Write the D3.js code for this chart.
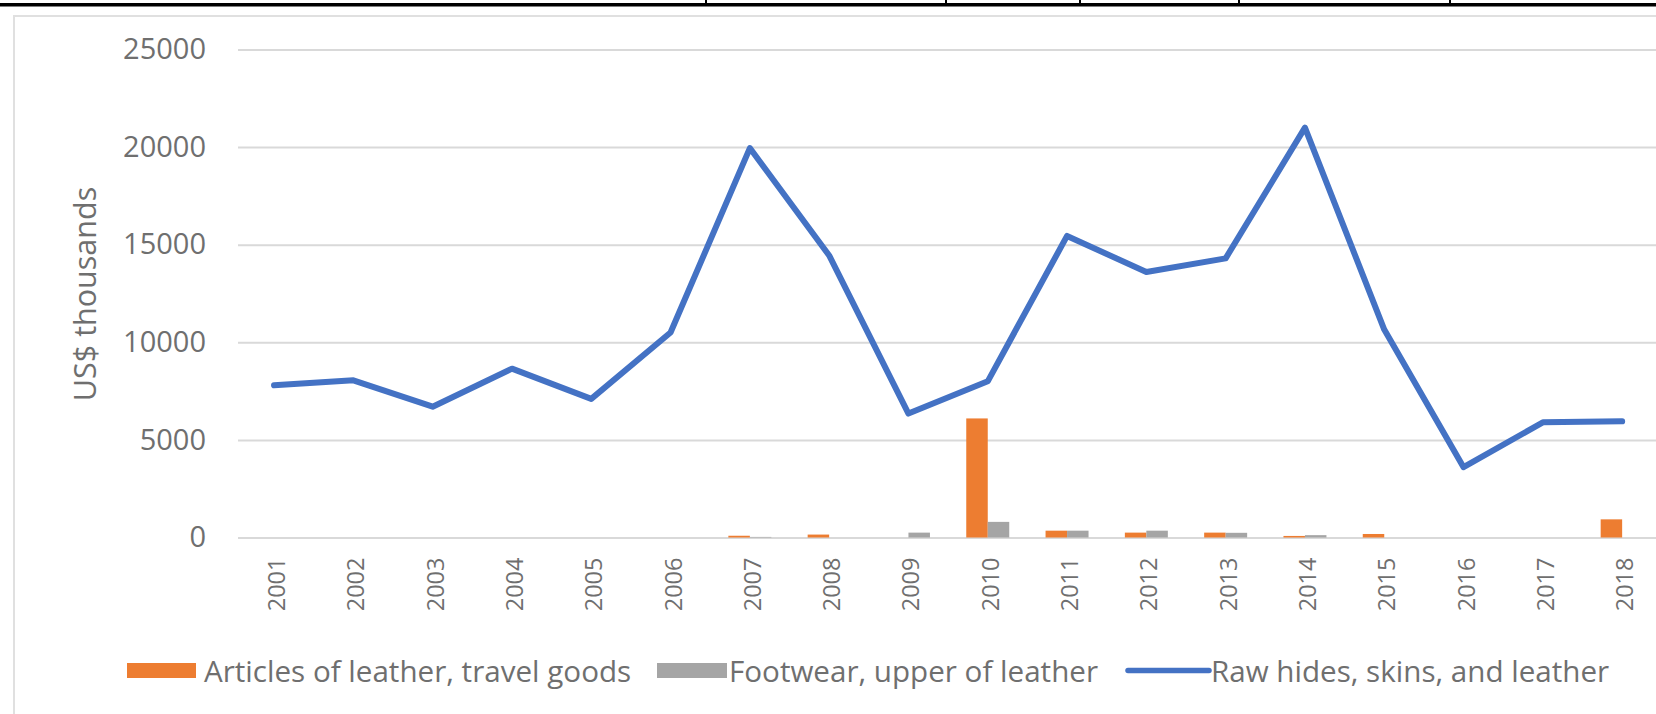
<!DOCTYPE html>
<html>
<head>
<meta charset="utf-8">
<script src="https://cdn.jsdelivr.net/npm/d3@7"></script>
<style>
  html, body { margin: 0; padding: 0; background: #fff; overflow: hidden; width: 1656px; height: 714px; }
  svg { display: block; font-family: "Open Sans", "Liberation Sans", sans-serif; }
</style>
</head>
<body>
<svg id="chart" width="1656" height="714"></svg>
<script>
// Leather trade, US$ thousands, 2001-2018
const years = ["2001","2002","2003","2004","2005","2006","2007","2008","2009",
               "2010","2011","2012","2013","2014","2015","2016","2017","2018"];
const articlesOfLeather = [0, 0, 0, 0, 0, 0, 90, 150, 0, 6100, 350, 250, 250, 80, 180, 0, 0, 930];
const footwearUpper     = [0, 0, 0, 0, 0, 0, 30, 0, 250, 800, 350, 350, 240, 120, 0, 0, 0, 0];
const rawHides          = [7800, 8050, 6700, 8650, 7100, 10500, 19950, 14450, 6350, 8000,
                           15450, 13600, 14300, 21000, 10650, 3600, 5900, 5950];
const yTicks = [0, 5000, 10000, 15000, 20000, 25000];

const barSeries = [
  { name: "Articles of leather, travel goods", values: articlesOfLeather, color: "#ED7D31" },
  { name: "Footwear, upper of leather",        values: footwearUpper,     color: "#A5A5A5" }
];
const lineSeries = { name: "Raw hides, skins, and leather", values: rawHides, color: "#4472C4" };

const W = 1656, H = 714;
const svg = d3.select("#chart");

const plot = { left: 234.4, step: 79.3, top: 49.5, bottom: 537.5 };
const pInner = 0.458;

const x = d3.scaleBand()
  .domain(years)
  .range([plot.left, plot.left + plot.step * years.length])
  .paddingInner(pInner)
  .paddingOuter(pInner / 2);

const xSub = d3.scaleBand()
  .domain(barSeries.map(s => s.name))
  .range([0, x.bandwidth()]);

const y = d3.scaleLinear().domain([0, 25000]).range([plot.bottom, plot.top]);

const textColor = "#6f6f6f";
const gridColor = "#d9d9d9";

// frame remnants above the chart
svg.append("rect").attr("x", 0).attr("y", 3).attr("width", W).attr("height", 3.5).attr("fill", "#000");
[706, 946, 1080, 1239, 1450].forEach(px => {
  svg.append("rect").attr("x", px - 1).attr("y", 0).attr("width", 2).attr("height", 4).attr("fill", "#000");
});

// chart area border (left and top edges)
svg.append("path")
  .attr("d", `M14,${H} L14,16 L${W},16`)
  .attr("fill", "none")
  .attr("stroke", "#e0e0e0")
  .attr("stroke-width", 2);

// horizontal gridlines + y labels
const yAxis = d3.axisLeft(y).tickValues(yTicks).tickFormat(d3.format("d"))
  .tickSize(-(W - 238)).tickPadding(32);
const gy = svg.append("g").attr("transform", "translate(238,0)").call(yAxis);
gy.select(".domain").remove();
gy.selectAll(".tick line").attr("stroke", gridColor).attr("stroke-width", 2);
gy.selectAll(".tick text")
  .attr("fill", textColor)
  .attr("font-size", 29)
  .attr("font-family", "'Open Sans', sans-serif");

// y-axis title
svg.append("text")
  .attr("transform", "translate(84,294) rotate(-90)")
  .attr("text-anchor", "middle")
  .attr("dominant-baseline", "central")
  .attr("fill", textColor)
  .attr("font-size", 30.5)
  .text("US$ thousands");

// x labels (rotated)
const xAxis = d3.axisBottom(x).tickSize(0).tickPadding(0);
const gx = svg.append("g").attr("transform", `translate(0,${plot.bottom})`).call(xAxis);
gx.select(".domain").remove();
gx.selectAll(".tick text")
  .attr("transform", "translate(2,20) rotate(-90)")
  .attr("text-anchor", "end")
  .attr("dominant-baseline", "central")
  .attr("x", 0).attr("y", 0).attr("dy", null)
  .attr("fill", textColor)
  .attr("font-size", 23.5)
  .attr("font-family", "'Open Sans', sans-serif");

// clustered bars
const groups = svg.append("g").selectAll("g")
  .data(years)
  .join("g")
  .attr("transform", d => `translate(${x(d)},0)`);

groups.selectAll("rect")
  .data((d, i) => barSeries.map(s => ({ name: s.name, color: s.color, v: s.values[i] })))
  .join("rect")
  .attr("x", d => xSub(d.name))
  .attr("width", xSub.bandwidth())
  .attr("y", d => y(d.v))
  .attr("height", d => y(0) - y(d.v))
  .attr("fill", d => d.color);

// line series
const line = d3.line()
  .x((d, i) => x(years[i]) + x.bandwidth() / 2)
  .y(d => y(d));

svg.append("path")
  .datum(lineSeries.values)
  .attr("d", line)
  .attr("fill", "none")
  .attr("stroke", lineSeries.color)
  .attr("stroke-width", 6)
  .attr("stroke-linejoin", "round")
  .attr("stroke-linecap", "round");

// legend
const legendY = 670.5;
const legendItems = [
  { type: "rect", color: barSeries[0].color, label: barSeries[0].name, sx: 127, sw: 69, tx: 204 },
  { type: "rect", color: barSeries[1].color, label: barSeries[1].name, sx: 657, sw: 70, tx: 729 },
  { type: "line", color: lineSeries.color,   label: lineSeries.name,   sx: 1128, sw: 81, tx: 1211 }
];
const lg = svg.append("g");
legendItems.forEach(it => {
  if (it.type === "rect") {
    lg.append("rect").attr("x", it.sx).attr("y", legendY - 7.5).attr("width", it.sw).attr("height", 15).attr("fill", it.color);
  } else {
    lg.append("line").attr("x1", it.sx).attr("x2", it.sx + it.sw)
      .attr("y1", legendY).attr("y2", legendY)
      .attr("stroke", it.color).attr("stroke-width", 5.5).attr("stroke-linecap", "round");
  }
  lg.append("text")
    .attr("x", it.tx).attr("y", legendY)
    .attr("dominant-baseline", "central")
    .attr("fill", textColor)
    .attr("font-size", 29.6)
    .text(it.label);
});
</script>
</body>
</html>
